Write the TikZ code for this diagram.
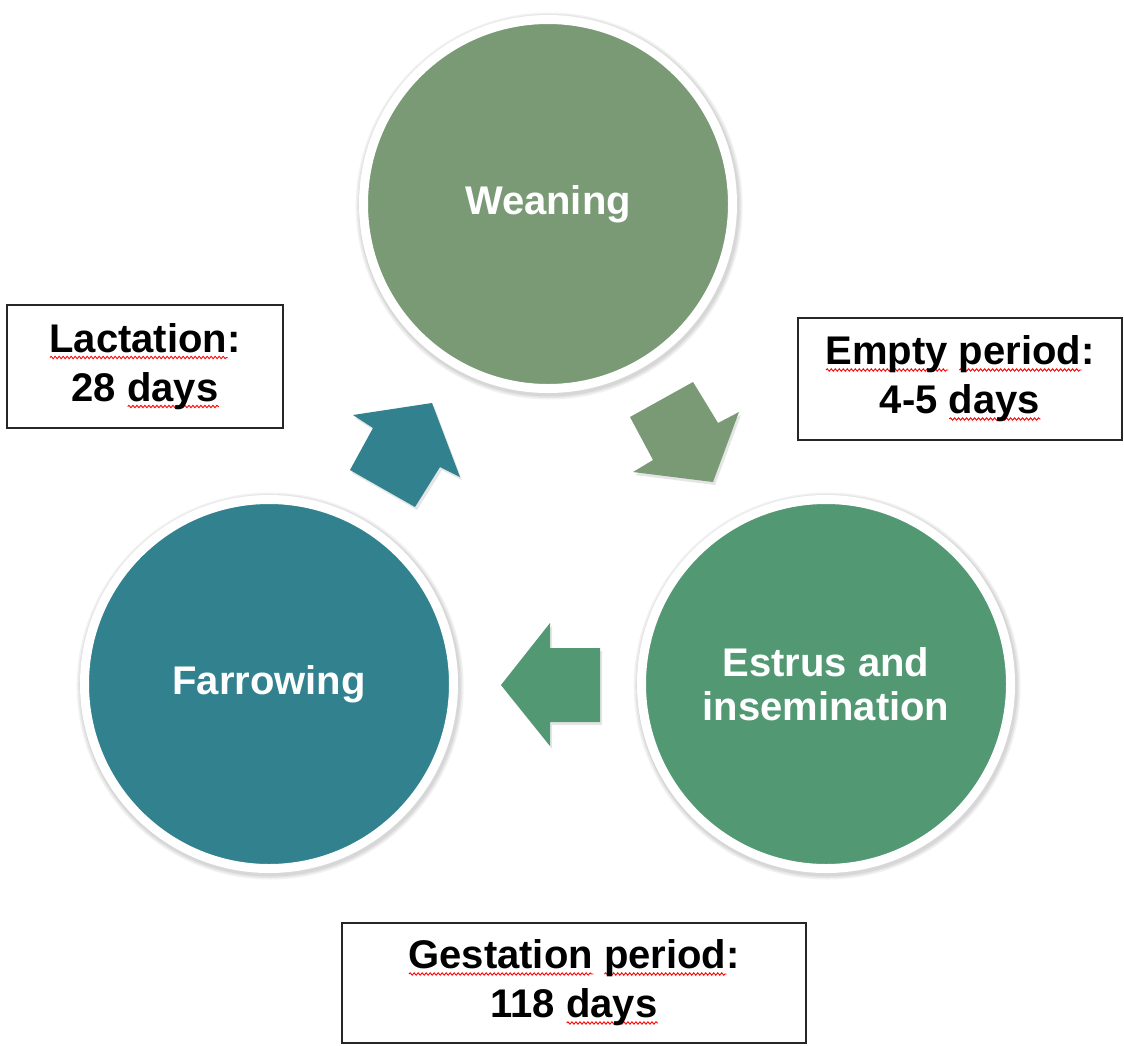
\documentclass[tikz,border=0pt]{standalone}
\usepackage{fontspec}
\setmainfont{Liberation Sans}
\usetikzlibrary{shadows,decorations.pathmorphing}
\definecolor{weancol}{RGB}{122,154,118}
\definecolor{estcol}{RGB}{82,152,115}
\definecolor{farcol}{RGB}{49,129,143}
\newcommand\wavyword[1]{\setbox0\hbox{#1}\rlap{\raisebox{-3.4pt}{\tikz\draw[red,line width=0.45pt,decorate,decoration={snake,amplitude=0.6pt,segment length=2pt}] (0pt,0pt)--(\wd0,0pt);}}\box0\relax}
\begin{document}
\begin{tikzpicture}[x=0.5pt,y=-0.5pt,
  halo/.style={preaction={draw=black,draw opacity=#1,transform canvas={shift={(0.6pt,-1pt)}}}},
  stagecircle/.style={circle,minimum size=184.5pt,inner sep=0pt,draw=white,line width=4.5pt,
    text=white,font=\bfseries\fontsize{20pt}{22pt}\selectfont,align=center,
    preaction={draw=black,draw opacity=0.05,line width=9pt,transform canvas={shift={(0.6pt,-1pt)}}},
    preaction={draw=black,draw opacity=0.05,line width=7.5pt,transform canvas={shift={(0.6pt,-1pt)}}},
    preaction={draw=black,draw opacity=0.06,line width=6pt,transform canvas={shift={(0.6pt,-1pt)}}}},
  infobox/.style={draw=black!85,line width=1.1pt,fill=white,inner sep=0pt,
    font=\bfseries\fontsize{20pt}{24.5pt}\selectfont,align=center},
  blockarrow/.style={draw=none,drop shadow={shadow xshift=1pt,shadow yshift=-1.5pt,opacity=0.2}}]
\useasboundingbox (0,0) rectangle (1124,1045);
\fill[white] (0,0) rectangle (1124,1045);

% circles
\node[stagecircle,fill=weancol] (wean) at (548,204) {Weaning};
\node[stagecircle,fill=estcol] (estrus) at (826,684) {Estrus and\\insemination};
\node[stagecircle,fill=farcol] (farrow) at (269,684) {Farrowing};

% block arrows
\fill[farcol,blockarrow] (353,415) -- (432,403) -- (460,477) -- (440,467) -- (415,507) -- (350,470) -- (373,428) -- cycle;
\fill[weancol,blockarrow] (630,417) -- (693,382) -- (718,423) -- (739,412) -- (713,482) -- (633,472) -- (653,460) -- cycle;
\fill[estcol,blockarrow] (501,685) -- (550,623) -- (550,648) -- (600,648) -- (600,722) -- (550,722) -- (550,746) -- cycle;

% info boxes
\node[infobox,minimum width=138pt,minimum height=61.5pt] (lact) at (145,366.5) {\wavyword{Lactation}:\\28 \wavyword{days}};
\node[infobox,minimum width=162pt,minimum height=61pt] (empty) at (960,379) {\wavyword{Empty} \wavyword{period}:\\4-5 \wavyword{days}};
\node[infobox,minimum width=232pt,minimum height=60pt] (gest) at (574,983) {\wavyword{Gestation} \wavyword{period}:\\118 \wavyword{days}};
\end{tikzpicture}
\end{document}
